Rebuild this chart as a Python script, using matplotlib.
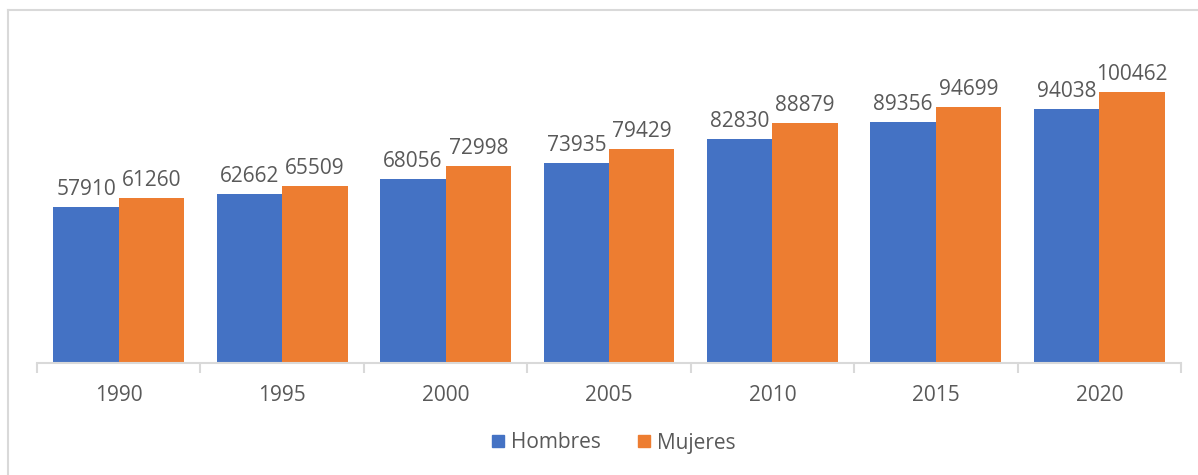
import matplotlib
matplotlib.use("Agg")
import matplotlib.pyplot as plt
from matplotlib.lines import Line2D
from matplotlib.patches import Patch
import numpy as np

years = ["1990", "1995", "2000", "2005", "2010", "2015", "2020"]
hombres = [57910, 62662, 68056, 73935, 82830, 89356, 94038]
mujeres = [61260, 65509, 72998, 79429, 88879, 94699, 100462]

BLUE = "#4472C4"
ORANGE = "#ED7D31"
TEXT = "#595959"
GRID = "#D9D9D9"

plt.rcParams["font.family"] = ["Open Sans", "DejaVu Sans"]

W, H = 1198, 475
fig = plt.figure(figsize=(W / 100, H / 100), dpi=100)

# chart area frame: only its top and left edges fall inside the image
fig.add_artist(Line2D([7.5 / W, 1.0], [(H - 10) / H] * 2, transform=fig.transFigure,
                      color=GRID, linewidth=1.5))
fig.add_artist(Line2D([7.5 / W] * 2, [0.0, (H - 10) / H], transform=fig.transFigure,
                      color=GRID, linewidth=1.5))

ax = fig.add_axes([37 / W, (H - 363) / H, (1181 - 37) / W, (363 - 39) / H])
x = np.arange(len(years))
bw = 0.4
b1 = ax.bar(x - bw / 2, hombres, bw, color=BLUE, label="Hombres")
b2 = ax.bar(x + bw / 2, mujeres, bw, color=ORANGE, label="Mujeres")

for bars, vals in ((b1, hombres), (b2, mujeres)):
    for r, v in zip(bars, vals):
        ax.annotate(f"{v}", (r.get_x() + r.get_width() / 2, v),
                    xytext=(0, 5), textcoords="offset points",
                    ha="center", va="bottom", fontsize=15, color=TEXT)

ax.set_xlim(-0.5, len(years) - 0.5)
ax.set_ylim(0, 120000)
for s in ("top", "right", "left"):
    ax.spines[s].set_visible(False)
ax.spines["bottom"].set_color(GRID)
ax.spines["bottom"].set_linewidth(1.5)
ax.set_yticks([])

ax.set_xticks(x)
ax.set_xticklabels(years, fontsize=15, color=TEXT)
ax.tick_params(axis="x", length=0, pad=16)
# category boundary ticks
ax.set_xticks(np.arange(-0.5, len(years)), minor=True)
ax.tick_params(axis="x", which="minor", length=7, width=1.5, color=GRID)

handles = [Patch(color=BLUE, label="Hombres"), Patch(color=ORANGE, label="Mujeres")]
fig.legend(handles=handles, loc="center", bbox_to_anchor=(614 / W, (H - 443) / H),
           ncol=2, frameon=False, fontsize=15, labelcolor=TEXT,
           handlelength=0.55, handleheight=0.55, handletextpad=0.35,
           columnspacing=1.8)

fig.savefig("out.png", dpi=100)
